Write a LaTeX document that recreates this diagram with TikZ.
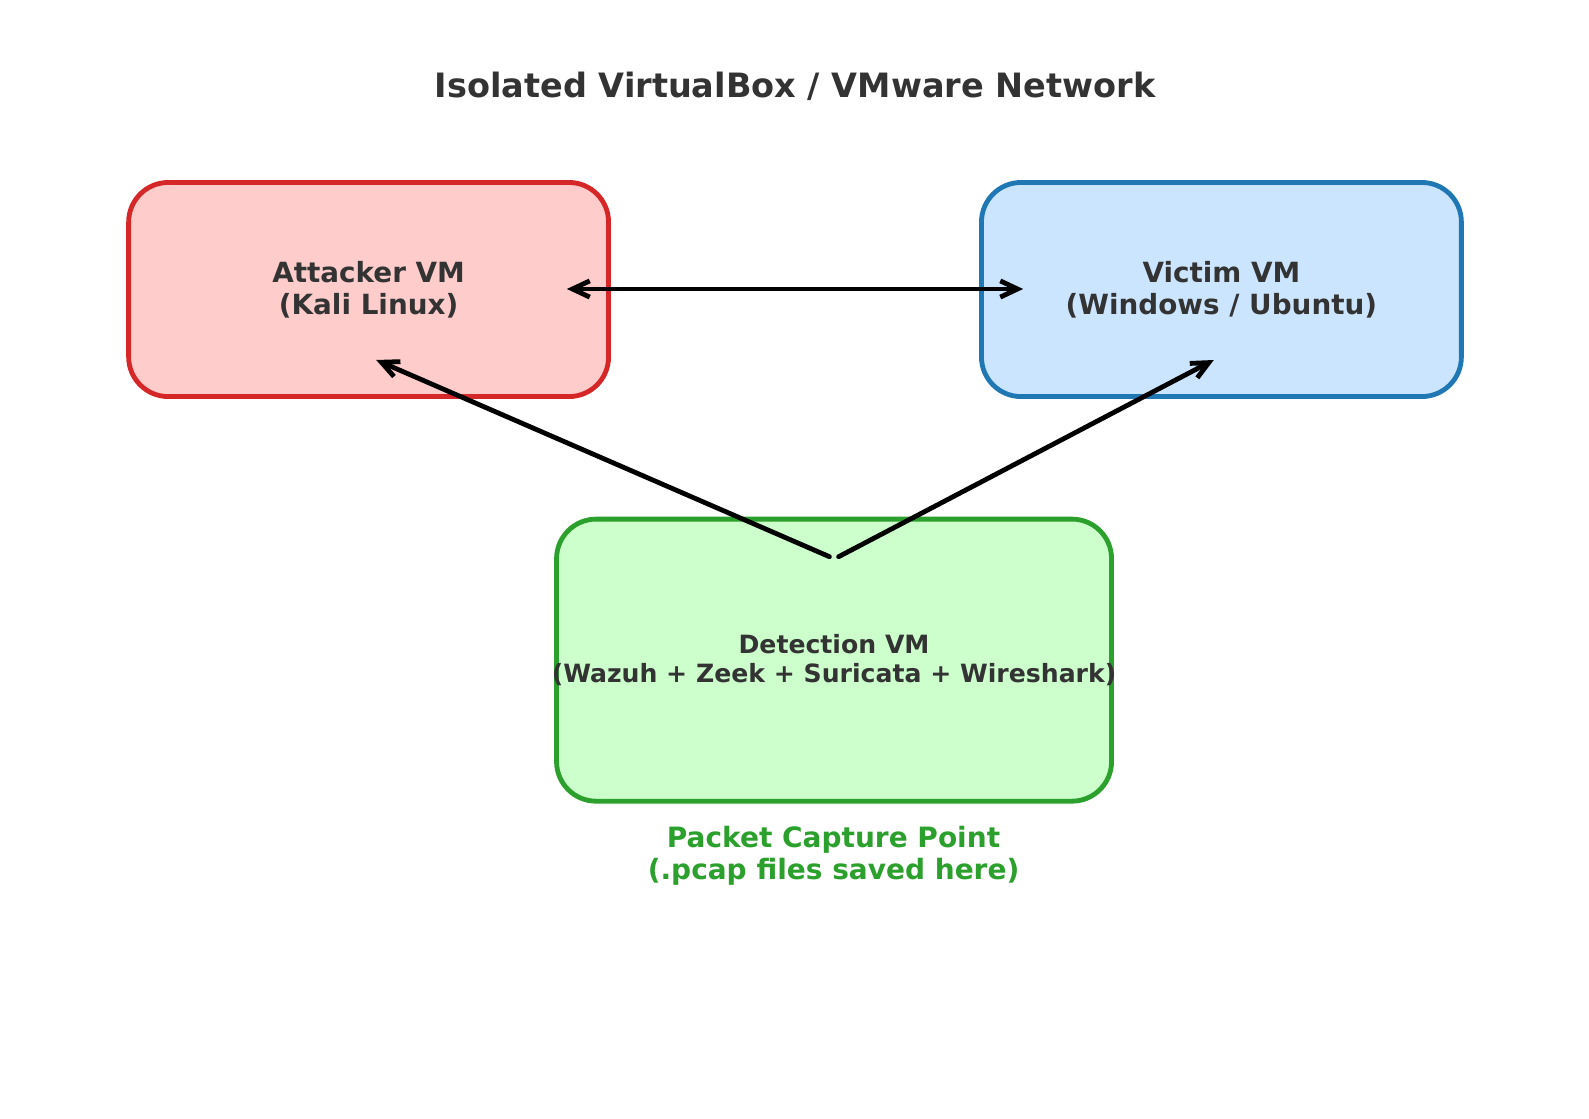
\documentclass[tikz,border=0pt]{standalone}
\usepackage{fontspec}
\setmainfont{DejaVu Sans}
\usetikzlibrary{arrows.meta}
\definecolor{labelgrey}{HTML}{333333}
\definecolor{attackred}{HTML}{D62728}
\definecolor{attackfill}{HTML}{FFCCCC}
\definecolor{victimblue}{HTML}{1F77B4}
\definecolor{victimfill}{HTML}{CCE5FF}
\definecolor{detectgreen}{HTML}{2CA02C}
\definecolor{detectfill}{HTML}{CCFFCC}
\tikzset{
	vm/.style = {
		draw, rounded corners=3.9mm, line width=1.35pt,
		minimum width=4.73cm, minimum height=2.11cm,
		align=center, text=labelgrey,
		font=\bfseries\fontsize{7.8}{9.1}\selectfont
	},
	barb/.tip = {Straight Barb[length=1.7mm, width=1.6mm, line width=1.35pt]},
	link/.style = {-barb, line width=1.35pt, line cap=round}
}

\begin{document}
\begin{tikzpicture}[x=0.01cm, y=-0.01cm]
	\useasboundingbox (0,0) rectangle (1567,1103);
	\node[text=labelgrey, font=\bfseries\fontsize{9.4}{11}\selectfont] (title) at (784,85) {Isolated VirtualBox / VMware Network};
	\node[vm, draw=attackred, fill=attackfill] (attacker) at (363.5,285.5) {Attacker VM\\(Kali Linux)};
	\node[vm, draw=victimblue, fill=victimfill] (victim) at (1204.5,285.5) {Victim VM\\(Windows / Ubuntu)};
	\node[vm, draw=detectgreen, fill=detectfill, minimum width=5.47cm, minimum height=2.78cm, inner xsep=-0.55mm,
		font=\bfseries\fontsize{7.05}{8.0}\selectfont] (detection) at (822.5,651) {Detection VM\\(Wazuh + Zeek + Suricata + Wireshark)};
	\node[text=detectgreen, align=center, font=\bfseries\fontsize{7.85}{8.8}\selectfont] (capture) at (822,844) {Packet Capture Point\\(.pcap files saved here)};
	% arrow ends
	\coordinate (attacker east) at (559,285);
	\coordinate (victim west) at (1009,285);
	\coordinate (attacker south) at (371,355);
	\coordinate (victim south) at (1197,355);
	\coordinate (detection left) at (818,549);
	\coordinate (detection right) at (827,549);
	\draw[link, barb-barb] (attacker east) -- (victim west);
	\draw[link] (detection left) -- (attacker south);
	\draw[link] (detection right) -- (victim south);
\end{tikzpicture}
\end{document}
